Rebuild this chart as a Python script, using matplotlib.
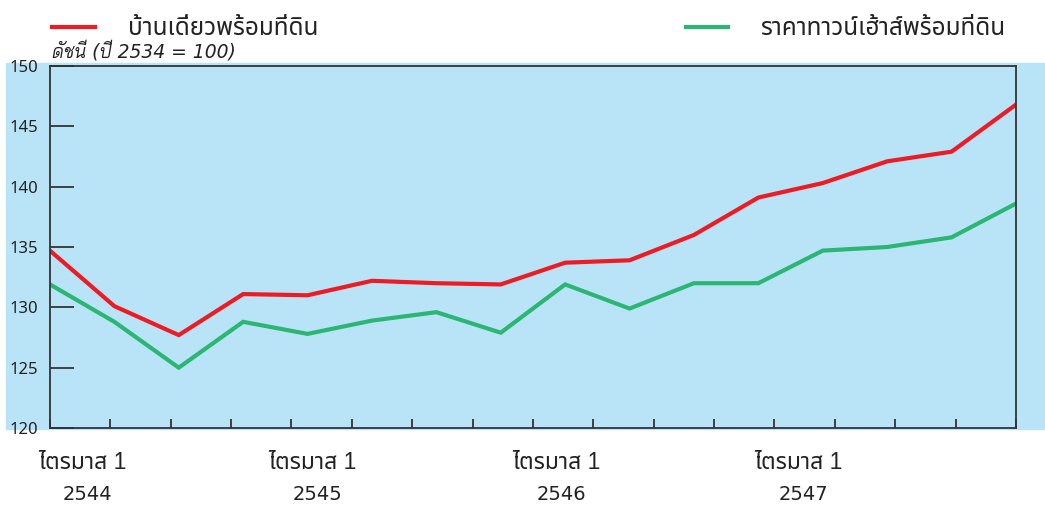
import numpy as np
import matplotlib
matplotlib.use("Agg")
import matplotlib.pyplot as plt
from matplotlib.patches import Rectangle
from matplotlib.lines import Line2D

# ไตรมาส 1/2544 ถึง ไตรมาส 4/2547
single_house = [134.7, 130.1, 127.7, 131.1, 131.0, 132.2, 132.0, 131.9,
                133.7, 133.9, 136.0, 139.1, 140.3, 142.1, 142.9, 146.8]
townhouse = [131.9, 128.8, 125.0, 128.8, 127.8, 128.9, 129.6, 127.9,
             131.9, 129.9, 132.0, 132.0, 134.7, 135.0, 135.8, 138.6]
years = ["2544", "2545", "2546", "2547"]
quarter_label = "ไตรมาส 1"
yticks = [120, 125, 130, 135, 140, 145, 150]

thai = ["Liberation Sans", "Noto Sans Thai"]
blue = "#b9e4f8"
red = "#ed1c24"
green = "#2bb673"
dark = "#333333"
txt = "#222222"

fig = plt.figure(figsize=(10.45, 5.07), dpi=100)
fig.patches.append(Rectangle((0.0057, 0.1538), 0.9943, 0.7219,
                             transform=fig.transFigure, color=blue, zorder=-5))

ax = fig.add_axes([0.0478, 0.1558, 0.9244, 0.714])
ax.set_facecolor(blue)
x = np.arange(len(single_house))
ax.plot(x, single_house, color=red, lw=3.0, solid_joinstyle="miter")
ax.plot(x, townhouse, color=green, lw=3.0, solid_joinstyle="miter")

ax.set_xlim(0, len(x) - 1)
ax.set_ylim(120, 150)
ax.set_yticks(yticks)
ax.set_yticklabels([str(v) for v in yticks], fontfamily="Noto Sans", fontsize=12, color=txt)
ax.set_xticks(np.linspace(0, len(x) - 1, 17))
ax.set_xticklabels([])
ax.tick_params(axis="y", direction="in", length=17, width=1.3, color=dark, pad=8.5)
ax.tick_params(axis="x", direction="in", length=6.5, width=1.3, color=dark)
for s in ax.spines.values():
    s.set_color(dark)
    s.set_linewidth(1.3)

# quarter labels under the axis
qx = [0.50, 4.08, 7.87, 11.62]
for q, yr in zip(qx, years):
    ax.annotate(quarter_label, xy=(q, 0.088), xycoords=("data", "figure fraction"),
                ha="center", va="center", fontsize=16.5, family=thai, weight="light", color=txt)
    ax.annotate(yr, xy=(q + 0.08, 0.0237), xycoords=("data", "figure fraction"),
                ha="center", va="center", fontsize=14, family="DejaVu Sans", color=txt)

# legend at top
fig.add_artist(Line2D([52 / 1045, 95 / 1045], [0.947, 0.947], color=red, lw=3.0))
fig.add_artist(Line2D([686 / 1045, 728 / 1045], [0.947, 0.947], color=green, lw=3.0))
fig.text(128 / 1045, 0.942, "บ้านเดี่ยวพร้อมที่ดิน", family=thai, fontsize=17.5, weight="light",
         ha="left", va="center", color=txt)
fig.text(760 / 1045, 0.942, "ราคาทาวน์เฮ้าส์พร้อมที่ดิน", family=thai, fontsize=17.5, weight="light",
         ha="left", va="center", color=txt)
fig.text(52 / 1045, 0.899, "ดัชนี (ปี 2534 = 100)", family=["DejaVu Sans", "Bai Jamjuree"],
         style="italic", fontsize=13.5, ha="left", va="center", color=txt)

fig.savefig("out.png", dpi=100)
